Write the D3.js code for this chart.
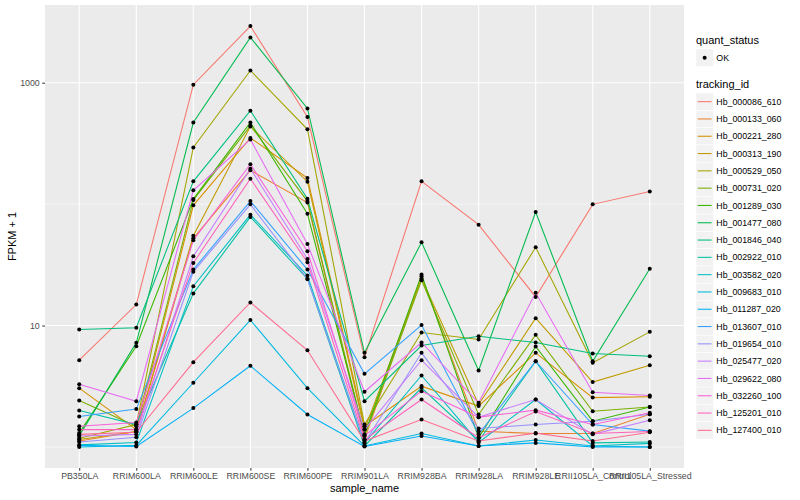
<!DOCTYPE html>
<html>
<head>
<meta charset="utf-8">
<script src="https://cdn.jsdelivr.net/npm/d3@7"></script>
<style>
  body { margin: 0; background: #fff; }
  text { font-family: "Liberation Sans", Arial, Helvetica, sans-serif; }
</style>
</head>
<body>
<svg id="chart"></svg>
<script>
// sample names on the x axis
const samples = ["PB350LA", "RRIM600LA", "RRIM600LE", "RRIM600SE", "RRIM600PE", "RRIM901LA",
  "RRIM928BA", "RRIM928LA", "RRIM928LE", "RRII105LA_Control", "RRII105LA_Stressed"];

const trackingIds = ["Hb_000086_610", "Hb_000133_060", "Hb_000221_280", "Hb_000313_190", "Hb_000529_050",
  "Hb_000731_020", "Hb_001289_030", "Hb_001477_080", "Hb_001846_040", "Hb_002922_010",
  "Hb_003582_020", "Hb_009683_010", "Hb_011287_020", "Hb_013607_010", "Hb_019654_010",
  "Hb_025477_020", "Hb_029622_080", "Hb_032260_100", "Hb_125201_010", "Hb_127400_010"];

// FPKM + 1, one row per tracking id, same order as samples
const fpkm = [
  [5.18, 14.9, 963, 2930, 522, 5.48, 154, 67.8, 17.2, 99.6, 127],
  [1.12, 1.34, 52.3, 190, 103, 1.15, 25.5, 1.35, 1.29, 1.29, 1.86],
  [3.05, 1.39, 97.7, 351, 164, 1.48, 3.17, 2.17, 5.96, 2.55, 2.59],
  [1.15, 1.34, 55.0, 437, 153, 1.39, 24.4, 2.24, 11.5, 3.42, 4.71],
  [1.18, 1.53, 293, 1262, 413, 1.53, 8.76, 7.67, 44.1, 4.93, 8.87],
  [2.41, 1.48, 108, 443, 106, 1.23, 23.6, 1.85, 8.38, 1.97, 2.13],
  [1.30, 6.76, 110, 471, 83.5, 1.27, 26.3, 1.19, 6.72, 1.63, 2.13],
  [1.24, 7.21, 470, 2360, 614, 5.96, 48.5, 4.26, 86.2, 5.08, 29.4],
  [9.27, 9.6, 154, 588, 111, 2.38, 6.85, 8.17, 7.25, 5.89, 5.59],
  [2.00, 1.53, 18.4, 78.5, 24.2, 1.02, 3.07, 1.12, 5.08, 1.08, 1.10],
  [1.04, 1.09, 21.1, 81.9, 25.8, 1.08, 3.88, 1.09, 2.46, 1.02, 1.07],
  [1.00, 1.03, 3.38, 11.1, 3.05, 1.02, 1.29, 1.02, 1.14, 1.02, 1.00],
  [1.03, 1.01, 2.09, 4.66, 1.85, 1.01, 1.23, 1.02, 1.08, 1.00, 1.00],
  [1.78, 2.05, 28.9, 106, 28.9, 4.00, 10.1, 1.27, 5.08, 1.53, 1.35],
  [1.10, 1.20, 27.8, 99.6, 24.2, 1.08, 5.96, 1.42, 1.53, 1.63, 1.86],
  [1.23, 1.27, 37.2, 196, 35.4, 1.39, 5.18, 1.76, 2.46, 1.27, 1.66],
  [3.29, 2.38, 130, 341, 47.0, 2.85, 7.25, 2.31, 18.6, 2.82, 2.65],
  [1.48, 1.59, 50.4, 213, 40.9, 1.24, 2.88, 1.76, 2.01, 1.53, 1.91],
  [1.39, 1.39, 32.8, 162, 33.2, 1.15, 2.46, 1.19, 1.96, 1.29, 1.34],
  [1.27, 1.32, 4.99, 15.5, 6.26, 1.12, 1.68, 1.12, 1.30, 1.12, 1.32]
];

// ggplot hue palette for 20 levels
const colors = ["#F8766D", "#EA8331", "#D89000", "#C09B00", "#A3A500", "#7CAE00", "#39B600", "#00BB4E",
  "#00BF7D", "#00C1A3", "#00BFC4", "#00BAE0", "#00B0F6", "#35A2FF", "#9590FF", "#C77CFF",
  "#E76BF3", "#FA62DB", "#FF62BC", "#FF6C91"];

const yMajor = [10, 1000];
const yMinor = [1, 100];

const config = {
  width: 800, height: 500,
  panel: {left: 45, right: 684, top: 5, bottom: 468}
};
const p = config.panel;

const svg = d3.select('#chart')
  .attr('width', config.width)
  .attr('height', config.height);

svg.append('rect').attr('width', config.width).attr('height', config.height).attr('fill', '#fff');

const series = trackingIds.map((id, i) => ({
  id: id,
  color: colors[i],
  values: samples.map((s, j) => ({sample: s, value: fpkm[i][j]}))
}));

// scales
const xScale = d3.scalePoint()
  .domain(samples)
  .range([p.left, p.right])
  .padding(0.6);

const allVals = fpkm.flat();
const lo = Math.log10(d3.min(allVals)), hi = Math.log10(d3.max(allVals));
const pad = (hi - lo) * 0.05;
const yScale = d3.scaleLog()
  .domain([Math.pow(10, lo - pad), Math.pow(10, hi + pad)])
  .range([p.bottom, p.top]);

// panel background + grid
svg.append('rect')
  .attr('x', p.left).attr('y', p.top)
  .attr('width', p.right - p.left).attr('height', p.bottom - p.top)
  .attr('fill', '#EBEBEB');

const grid = svg.append('g');
grid.selectAll('.minor')
  .data(yMinor)
  .join('line')
    .attr('x1', p.left).attr('x2', p.right)
    .attr('y1', d => yScale(d)).attr('y2', d => yScale(d))
    .attr('stroke', '#fff').attr('stroke-width', 0.55);
grid.selectAll('.major')
  .data(yMajor)
  .join('line')
    .attr('x1', p.left).attr('x2', p.right)
    .attr('y1', d => yScale(d)).attr('y2', d => yScale(d))
    .attr('stroke', '#fff').attr('stroke-width', 1.1);
grid.selectAll('.vx')
  .data(samples)
  .join('line')
    .attr('x1', d => xScale(d)).attr('x2', d => xScale(d))
    .attr('y1', p.top).attr('y2', p.bottom)
    .attr('stroke', '#fff').attr('stroke-width', 1.1);

// lines
const line = d3.line()
  .x(d => xScale(d.sample))
  .y(d => yScale(d.value));

svg.append('g')
  .selectAll('path')
  .data(series)
  .join('path')
    .attr('d', d => line(d.values))
    .attr('fill', 'none')
    .attr('stroke', d => d.color)
    .attr('stroke-width', 1.07);

// points
svg.append('g')
  .selectAll('circle')
  .data(series.flatMap(d => d.values))
  .join('circle')
    .attr('cx', d => xScale(d.sample))
    .attr('cy', d => yScale(d.value))
    .attr('r', 2)
    .attr('fill', '#000');

// axes
const xAxis = d3.axisBottom(xScale).tickSize(2.75).tickPadding(2.5);
const yAxis = d3.axisLeft(yScale).tickValues(yMajor).tickFormat(d3.format('d')).tickSize(2.75).tickPadding(2.5);

const xAxisG = svg.append('g')
  .attr('transform', `translate(0,${p.bottom})`)
  .call(xAxis);
const yAxisG = svg.append('g')
  .attr('transform', `translate(${p.left},0)`)
  .call(yAxis);

[xAxisG, yAxisG].forEach(g => {
  g.select('.domain').remove();
  g.selectAll('.tick line').attr('stroke', '#333333');
  g.selectAll('.tick text')
    .attr('fill', '#4D4D4D')
    .style('font-size', '8.8px')
    .style('font-family', '"Liberation Sans", Arial, sans-serif');
});

svg.append('text')
  .attr('x', (p.left + p.right) / 2).attr('y', 492)
  .attr('text-anchor', 'middle')
  .style('font-size', '11px')
  .text('sample_name');

svg.append('text')
  .attr('transform', `translate(16,${(p.top + p.bottom) / 2}) rotate(-90)`)
  .attr('text-anchor', 'middle')
  .style('font-size', '11px')
  .text('FPKM + 1');

// legend
const legend = svg.append('g').attr('transform', 'translate(696,0)');
const keyW = 17.3;

legend.append('text').attr('x', 0).attr('y', 44).style('font-size', '11px').text('quant_status');
legend.append('rect').attr('x', 0).attr('y', 49).attr('width', keyW).attr('height', keyW)
  .attr('fill', '#F2F2F2').attr('stroke', '#fff').attr('stroke-width', 0.5);
legend.append('circle').attr('cx', keyW / 2).attr('cy', 49 + keyW / 2).attr('r', 2).attr('fill', '#000');
legend.append('text').attr('x', keyW + 3).attr('y', 49 + keyW / 2).attr('dy', '0.35em')
  .style('font-size', '8.8px').text('OK');

legend.append('text').attr('x', 0).attr('y', 88).style('font-size', '11px').text('tracking_id');

const keys = legend.selectAll('.key')
  .data(series)
  .join('g')
    .attr('class', 'key')
    .attr('transform', (d, i) => `translate(0,${93 + i * keyW})`);

keys.append('rect')
  .attr('width', keyW).attr('height', keyW)
  .attr('fill', '#F2F2F2').attr('stroke', '#fff').attr('stroke-width', 0.5);
keys.append('line')
  .attr('x1', 1.7).attr('x2', keyW - 1.7)
  .attr('y1', keyW / 2).attr('y2', keyW / 2)
  .attr('stroke', d => d.color).attr('stroke-width', 1.07);
keys.append('text')
  .attr('x', keyW + 3).attr('y', keyW / 2).attr('dy', '0.35em')
  .style('font-size', '8.8px')
  .text(d => d.id);
</script>
</body>
</html>
